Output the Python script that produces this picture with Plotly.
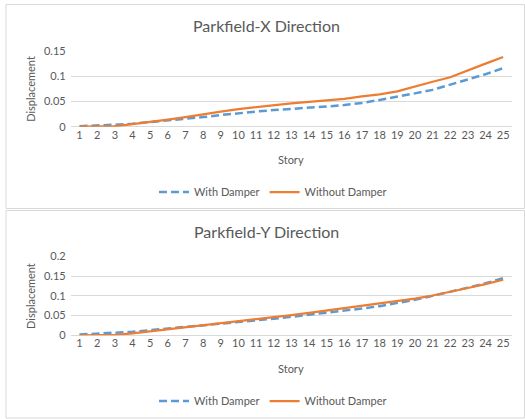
import plotly.graph_objects as go

stories = list(range(1, 26))

# Parkfield-X direction
x_with_damper = [0.001, 0.002, 0.004, 0.006, 0.009, 0.012, 0.016, 0.019, 0.023, 0.027,
                 0.030, 0.033, 0.035, 0.037, 0.040, 0.043, 0.047, 0.053, 0.059, 0.066,
                 0.073, 0.083, 0.093, 0.104, 0.116]
x_without_damper = [0.000, 0.000, 0.001, 0.005, 0.009, 0.014, 0.019, 0.025, 0.030, 0.035,
                    0.039, 0.043, 0.046, 0.049, 0.052, 0.055, 0.060, 0.064, 0.070, 0.080,
                    0.089, 0.098, 0.112, 0.125, 0.138]

# Parkfield-Y direction
y_with_damper = [0.002, 0.004, 0.006, 0.009, 0.013, 0.017, 0.021, 0.025, 0.029, 0.033,
                 0.038, 0.042, 0.047, 0.052, 0.057, 0.062, 0.068, 0.074, 0.082, 0.090,
                 0.100, 0.110, 0.121, 0.132, 0.145]
y_without_damper = [0.000, 0.000, 0.001, 0.005, 0.010, 0.015, 0.021, 0.026, 0.031, 0.036,
                    0.041, 0.046, 0.051, 0.057, 0.063, 0.069, 0.075, 0.081, 0.087, 0.093,
                    0.101, 0.110, 0.120, 0.130, 0.141]

titles = ["Parkfield-X Direction", "Parkfield-Y Direction"]
series_names = ["With Damper", "Without Damper"]

W, H = 525, 419
BLUE = "#5B9BD5"
ORANGE = "#ED7D31"
GRID = "#D9D9D9"
TXT = "#595959"
FONT = "Lato, Open Sans, sans-serif"


def py(p):
    # pixel row -> paper y
    return 1 - p / H


fig = go.Figure()

panels = [
    dict(with_d=x_with_damper, without_d=x_without_damper, ymax=0.15,
         top=51, bottom=126.7, title_y=26, story_y=160, legend_y=192,
         xa="x", ya="y", legend="legend"),
    dict(with_d=y_with_damper, without_d=y_without_damper, ymax=0.2,
         top=256.5, bottom=335.3, title_y=232, story_y=368, legend_y=401,
         xa="x2", ya="y2", legend="legend2"),
]

for i, p in enumerate(panels):
    fig.add_trace(go.Scatter(
        x=stories, y=p["with_d"], mode="lines", name=series_names[0],
        line=dict(color=BLUE, width=2.5, dash="8px,4px"),
        xaxis=p["xa"], yaxis=p["ya"], legend=p["legend"],
    ))
    fig.add_trace(go.Scatter(
        x=stories, y=p["without_d"], mode="lines", name=series_names[1],
        line=dict(color=ORANGE, width=2.25),
        xaxis=p["xa"], yaxis=p["ya"], legend=p["legend"],
    ))

    suffix = "" if i == 0 else "2"
    fig.update_layout(**{
        "xaxis" + suffix: dict(
            domain=[70.7 / W, 512 / W], range=[0.5, 25.5], tickmode="array",
            tickvals=stories, showgrid=False, zeroline=False, showline=False,
            anchor="y" + suffix, tickfont=dict(size=11, color=TXT, family=FONT),
            ticks="", fixedrange=True, automargin=False,
        ),
        "yaxis" + suffix: dict(
            domain=[py(p["bottom"]), py(p["top"])], range=[0, p["ymax"]],
            dtick=0.05, showgrid=True, gridcolor=GRID, gridwidth=1,
            zeroline=True, zerolinecolor=GRID, zerolinewidth=1, showline=False,
            anchor="x" + suffix, tickfont=dict(size=11, color=TXT, family=FONT),
            tickformat="~g", ticklabelstandoff=4, automargin=False,
        ),
        p["legend"]: dict(
            orientation="h", x=0.52, y=py(p["legend_y"]), xanchor="center",
            yanchor="middle", font=dict(size=11, color=TXT, family=FONT),
            bgcolor="rgba(0,0,0,0)", itemwidth=30,
        ),
    })

    fig.add_annotation(text=titles[i], x=266 / W, y=py(p["title_y"]), xref="paper",
                       yref="paper", showarrow=False, xanchor="center", yanchor="middle",
                       font=dict(size=16, color=TXT, family=FONT))
    fig.add_annotation(text="Story", x=291 / W, y=py(p["story_y"]), xref="paper",
                       yref="paper", showarrow=False, xanchor="center", yanchor="middle",
                       font=dict(size=11, color=TXT, family=FONT))
    fig.add_annotation(text="Displacement", x=31 / W,
                       y=(py(p["bottom"]) + py(p["top"])) / 2, xref="paper",
                       yref="paper", showarrow=False, textangle=-90, xanchor="center",
                       yanchor="middle", font=dict(size=11, color=TXT, family=FONT))

# chart frames
fig.add_shape(type="rect", xref="paper", yref="paper", x0=6 / W, x1=524.5 / W,
              y0=py(208.5), y1=py(4.5), line=dict(color=GRID, width=1))
fig.add_shape(type="rect", xref="paper", yref="paper", x0=6 / W, x1=524.5 / W,
              y0=py(418), y1=py(210.5), line=dict(color=GRID, width=1))

fig.update_layout(
    width=W, height=H, margin=dict(l=0, r=0, t=0, b=0),
    paper_bgcolor="white", plot_bgcolor="white",
    font=dict(family=FONT, color=TXT),
    showlegend=True,
)

# drop the browser's default page margin so the figure sits at the window corner
fig.write_html("out.html", config={"displayModeBar": False},
               post_script="document.body.style.margin='0';")
